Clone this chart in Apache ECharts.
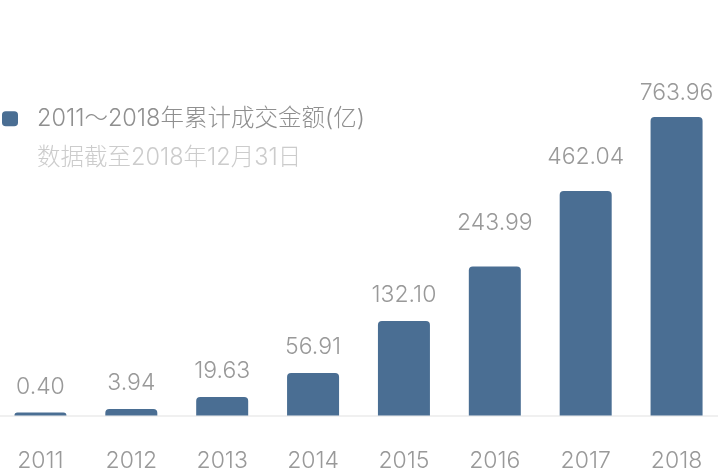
<!DOCTYPE html>
<html><head><meta charset="utf-8">
<script src="https://cdn.jsdelivr.net/npm/echarts@6/dist/echarts.min.js"></script>
<style>html,body{margin:0;padding:0;background:#fff;overflow:hidden}#c{position:absolute;left:-5px;top:0;width:727px;height:470px}</style>
</head><body><div id="c"></div>
<script>
const categories = ['2011', '2012', '2013', '2014', '2015', '2016', '2017', '2018'];
const totals = ['0.40', '3.94', '19.63', '56.91', '132.10', '243.99', '462.04', '763.96'];
const barHeights = [3, 6.5, 18.5, 42.5, 94.5, 149, 224.5, 298.5];
const seriesName = '2011～2018年累计成交金额(亿)';
const subtitle = '数据截至2018年12月31日';

const FONT = 'Inter, "Noto Sans CJK SC", sans-serif';
const labelShift = {5: -18, 6: -8.5, 7: 1.5};
const chart = echarts.init(document.getElementById('c'), null, {renderer: 'canvas'});
chart.setOption({
  animation: false,
  textStyle: {fontFamily: FONT},
  title: {
    text: subtitle, left: 42, top: 146, padding: 0,
    textStyle: {color: '#cccccc', fontSize: 23.5, fontWeight: 300, fontFamily: FONT}
  },
  legend: {
    left: 7, top: 107, padding: 0, icon: 'roundRect', itemWidth: 16, itemHeight: 15,
    textStyle: {color: '#8f8f8f', fontSize: 23.5, fontWeight: 300, fontFamily: FONT, padding: [0, 0, 0, 14]},
    data: [seriesName]
  },
  grid: {left: 0, right: 0, top: 15.5, bottom: 54.5, containLabel: false, outerBoundsMode: 'none'},
  xAxis: {
    type: 'category', data: categories,
    axisLine: {lineStyle: {color: '#f0f0f0', width: 2}},
    axisTick: {show: false},
    axisLabel: {color: '#999', fontSize: 23, fontWeight: 300, margin: 34, fontFamily: FONT}
  },
  yAxis: {type: 'value', min: 0, max: 400, show: false, splitLine: {show: false}},
  series: [{
    name: seriesName, type: 'bar', barWidth: 52,
    itemStyle: {color: '#4a6e93', borderRadius: [4, 4, 0, 0]},
    label: {show: true, position: 'top', distance: 14, color: '#999', fontSize: 23, fontWeight: 300, fontFamily: FONT,
      formatter: p => totals[p.dataIndex]},
    data: barHeights.map((v, i) => labelShift[i] !== undefined ? {value: v, label: {offset: [0, labelShift[i]]}} : v)
  }]
});
</script></body></html>
